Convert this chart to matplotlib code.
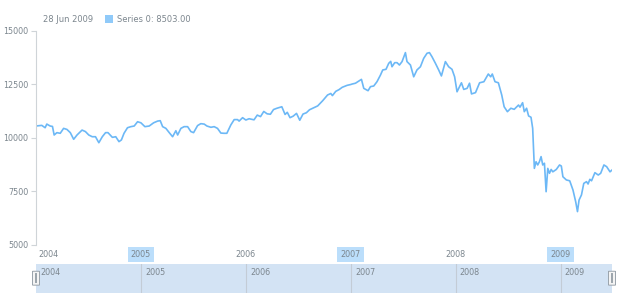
import matplotlib
matplotlib.use('Agg')
import matplotlib.pyplot as plt
from matplotlib.patches import FancyBboxPatch

# decimal years and index values
t_2004 = [2004.000, 2004.055, 2004.087, 2004.103, 2004.135, 2004.157, 2004.173, 2004.199,
          2004.231, 2004.263, 2004.295, 2004.327, 2004.359, 2004.391, 2004.439, 2004.471,
          2004.503, 2004.536, 2004.567, 2004.599, 2004.632, 2004.663, 2004.686, 2004.728,
          2004.760, 2004.791, 2004.814, 2004.839, 2004.872, 2004.904, 2004.936, 2004.968]
v_2004 = [10560, 10590, 10480, 10650, 10560, 10540, 10140, 10250,
          10220, 10450, 10400, 10250, 9940, 10140, 10370, 10300,
          10140, 10060, 10060, 9780, 10060, 10250, 10250, 10030,
          10060, 9830, 9910, 10220, 10480, 10530, 10560, 10760]

t_2005 = [2005.000, 2005.038, 2005.079, 2005.121, 2005.159, 2005.184, 2005.207, 2005.238,
          2005.270, 2005.302, 2005.333, 2005.350, 2005.381, 2005.412, 2005.445, 2005.476,
          2005.502, 2005.540, 2005.571, 2005.603, 2005.629, 2005.667, 2005.698, 2005.730,
          2005.762, 2005.793, 2005.819, 2005.857, 2005.889, 2005.921, 2005.936, 2005.969]
v_2005 = [10710, 10530, 10560, 10710, 10790, 10810, 10530, 10450,
          10250, 10060, 10340, 10140, 10450, 10530, 10530, 10300,
          10250, 10580, 10670, 10650, 10560, 10500, 10530, 10450,
          10230, 10220, 10220, 10610, 10860, 10860, 10790, 10950]

t_2006 = [2006.000, 2006.031, 2006.078, 2006.109, 2006.140, 2006.171, 2006.203, 2006.234,
          2006.264, 2006.296, 2006.343, 2006.374, 2006.395, 2006.421, 2006.451, 2006.483,
          2006.514, 2006.545, 2006.577, 2006.607, 2006.654, 2006.685, 2006.732, 2006.779,
          2006.810, 2006.825, 2006.857, 2006.888, 2006.919, 2006.965]
v_2006 = [10840, 10900, 10850, 11070, 11000, 11240, 11130, 11110,
          11330, 11390, 11460, 11100, 11200, 10950, 11020, 11150,
          10830, 11120, 11180, 11320, 11430, 11500, 11740, 12010,
          12080, 11980, 12180, 12260, 12370, 12460]

t_2007 = [2007.000, 2007.012, 2007.045, 2007.076, 2007.102, 2007.124, 2007.165, 2007.188,
          2007.219, 2007.250, 2007.283, 2007.305, 2007.336, 2007.362, 2007.381, 2007.393,
          2007.419, 2007.441, 2007.464, 2007.489, 2007.521, 2007.536, 2007.569, 2007.600,
          2007.631, 2007.664, 2007.695, 2007.727, 2007.750, 2007.774, 2007.807, 2007.838,
          2007.864, 2007.902, 2007.933, 2007.965, 2007.990]
v_2007 = [12500, 12520, 12560, 12660, 12740, 12320, 12210, 12400,
          12430, 12630, 12940, 13180, 13210, 13490, 13580, 13330,
          13520, 13520, 13410, 13570, 13990, 13570, 13410, 12860,
          13180, 13330, 13720, 13960, 13990, 13800, 13490, 13180,
          12900, 13570, 13330, 13210, 12860]

t_2008 = [2008.013, 2008.055, 2008.077, 2008.109, 2008.132, 2008.151, 2008.189, 2008.228,
          2008.269, 2008.311, 2008.334, 2008.349, 2008.375, 2008.407, 2008.439, 2008.462,
          2008.493, 2008.526, 2008.558, 2008.599, 2008.613, 2008.638, 2008.654, 2008.676,
          2008.695, 2008.718, 2008.734, 2008.750, 2008.766, 2008.782, 2008.798, 2008.814,
          2008.830, 2008.846, 2008.862, 2008.878, 2008.894, 2008.910, 2008.926, 2008.959,
          2008.990]
v_2008 = [12160, 12580, 12270, 12320, 12560, 12060, 12120, 12580,
          12630, 12990, 12860, 12990, 12630, 12580, 12010, 11460,
          11230, 11390, 11340, 11540, 11440, 11650, 11230, 11390,
          11030, 10970, 10450, 8580, 8890, 8740, 8890, 9130,
          8740, 8820, 7490, 8580, 8350, 8530, 8420, 8530,
          8740]

t_2009 = [2009.007, 2009.022, 2009.055, 2009.087, 2009.118, 2009.144, 2009.161, 2009.176,
          2009.199, 2009.221, 2009.247, 2009.262, 2009.279, 2009.295, 2009.327, 2009.359,
          2009.382, 2009.413, 2009.439, 2009.471, 2009.490]
v_2009 = [8690, 8190, 8040, 8000, 7570, 7020, 6560, 7100,
          7340, 7880, 7960, 7850, 8070, 8000, 8380, 8270,
          8350, 8740, 8660, 8420, 8503]

years = [2004, 2005, 2006, 2007, 2008, 2009]
highlighted = [2005, 2007, 2009]
y_ticks = [5000, 7500, 10000, 12500, 15000]
legend_date = '28 Jun 2009'
legend_text = 'Series 0: 8503.00'

t = t_2004 + t_2005 + t_2006 + t_2007 + t_2008 + t_2009
v = v_2004 + v_2005 + v_2006 + v_2007 + v_2008 + v_2009

line_col = '#6cb8f6'
txt_col = '#7c868e'
x_end = 2009.49

plt.rcParams['font.family'] = ['DejaVu Sans']
fig = plt.figure(figsize=(6.2, 3.0), dpi=100)

# main plot
ax = fig.add_axes([36/620, 1-245/300, 576/620, 214/300])
ax.plot(t, v, color=line_col, lw=1.2)
ax.set_xlim(2004, x_end)
ax.set_ylim(5000, 15000)
ax.set_yticks(y_ticks)
ax.set_yticklabels([str(y) for y in y_ticks])
ax.set_xticks([])
for s in ['top', 'right', 'bottom']:
    ax.spines[s].set_visible(False)
ax.spines['left'].set_color('#cfd4d8')
ax.spines['left'].set_linewidth(0.8)
ax.tick_params(axis='y', colors='#cfd4d8', labelcolor=txt_col, labelsize=5.8,
               length=3.5, width=0.8, pad=2)

for yr in years:
    ha = 'left' if yr == years[0] else 'center'
    xx = yr + 0.02 if yr == years[0] else yr
    box = None
    if yr in highlighted:
        box = dict(boxstyle='square,pad=0.4', fc='#bbdefb', ec='none')
    ax.text(xx, -0.045, str(yr), transform=ax.get_xaxis_transform(), ha=ha, va='center',
            fontsize=5.8, color=txt_col, bbox=box)

# legend line on top
fig.text(43/620, 1-19/300, legend_date, fontsize=6, color=txt_col, va='center')
fig.patches.append(FancyBboxPatch((105/620, 1-23/300), 8/620, 8/300, boxstyle='square,pad=0',
                                  fc='#90caf9', ec='none', transform=fig.transFigure))
fig.text(117/620, 1-19/300, legend_text, fontsize=6, color=txt_col, va='center')

# scroller
sc = fig.add_axes([36/620, 1-293/300, 576/620, 29/300])
sc.set_xlim(2004, x_end)
sc.set_ylim(0, 1)
sc.set_facecolor('#d3e3f4')
for s in sc.spines.values():
    s.set_visible(False)
sc.set_xticks([])
sc.set_yticks([])
for yr in years:
    if yr > years[0]:
        sc.axvline(yr, color='#c3ccd6', lw=0.8)
    sc.text(yr + 0.04, 0.72, str(yr), fontsize=5.8, color=txt_col, va='center', ha='left')

for hx in [0, 1]:
    hb = FancyBboxPatch((hx - 3.5/576, 0.27), 7/576, 0.48,
                        boxstyle='round,pad=0,rounding_size=0.004',
                        fc='#f4f4f4', ec='#9aa3ab', lw=0.7,
                        transform=sc.transAxes, clip_on=False, zorder=5)
    sc.add_patch(hb)
    sc.plot([hx, hx], [0.38, 0.64], transform=sc.transAxes, color='#9aa3ab',
            lw=1.4, clip_on=False, zorder=6)

fig.savefig('out.png', dpi=100)
